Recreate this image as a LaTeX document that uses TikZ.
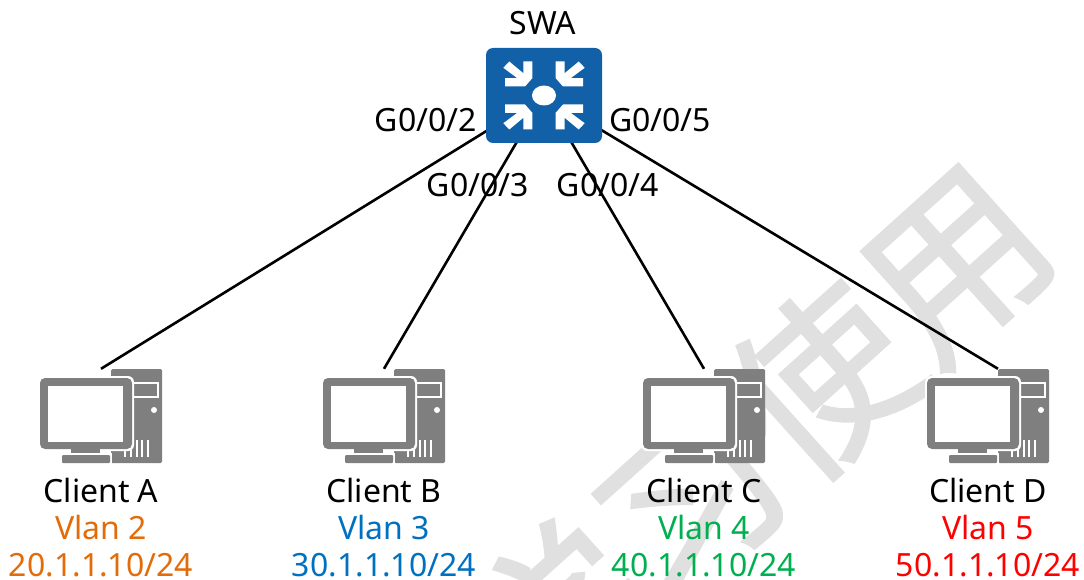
\documentclass[tikz,border=0pt]{standalone}
\usepackage{fontspec}
\setmainfont{Noto Sans}
\newfontfamily\cjk[FakeBold=1.6]{Noto Sans CJK SC}
\usepackage{xcolor}
\usetikzlibrary{positioning}
\definecolor{swblue}{HTML}{1260A8}
\definecolor{pcgray}{HTML}{7F7F7F}
\definecolor{markgray}{HTML}{E0E0E0}
\definecolor{vlanorange}{HTML}{E36C0A}
\definecolor{vlanblue}{HTML}{0070C0}
\definecolor{vlangreen}{HTML}{00B050}
\definecolor{vlanred}{HTML}{FF0000}

\tikzset{
  pics/pcicon/.style={code={
    % tower
    \fill[pcgray, rounded corners=1.5pt] (10,-47) rectangle (61,47);
    \draw[white, line width=1.2pt] (32,-33) rectangle (57,-19);
    \fill[white] (53,-6) circle (3);
    \foreach \vx in {24,30,36,41,47}
      \draw[white, line width=1.2pt] (\vx,24) -- (\vx,41);
    % monitor
    \fill[white, rounded corners=6pt] (-63,-40) rectangle (33,35);
    \fill[pcgray, rounded corners=5pt] (-61,-38) rectangle (31,33);
    \fill[white] (-53,-30) rectangle (22,26);
    \fill[pcgray] (-30,33) rectangle (-1,37);
    \fill[white] (-41,37) rectangle (11,47);
    \fill[pcgray, rounded corners=1pt] (-39,39) rectangle (9,47);
  }},
  pics/swicon/.style={code={
    \fill[swblue, rounded corners=7pt] (-58,-47.5) rectangle (58,47.5);
    \fill[white] (0,0) ellipse (12 and 10);
    \foreach \sx/\sy in {1/1,-1/1,1/-1,-1/-1}
      \fill[white, xscale=\sx, yscale=\sy] (-34.7,-34) -- (-20.7,-22.3) -- (-20.7,-34)
        -- (-11.7,-34) -- (-11.7,-17.3) -- (-19,-9) -- (-39,-9) -- (-39,-17.3)
        -- (-26.7,-17.3) -- (-40.7,-27.7) -- cycle;
  }}
}

\begin{document}
\begin{tikzpicture}[
    x=1pt, y=-1pt,
    node distance=15pt,
    box/.style={inner sep=0pt, minimum width=122pt, minimum height=94pt},
    port/.style={inner sep=0pt, font=\fontsize{32}{36}\selectfont},
    client/.style={inner sep=0pt, align=center, font=\fontsize{32}{37}\selectfont},
    link/.style={line width=2.6pt}
  ]
  \useasboundingbox (0,0) rectangle (1084,580);

  % watermark
  \begin{scope}
    \clip (0,0) rectangle (1084,580);
    \node (mark) at (755,440) [inner sep=0pt, rotate=42, text=markgray, font=\cjk\fontsize{178}{178}\selectfont] {学习使用};
  \end{scope}

  \node (swa) at (544,95.5) [inner sep=0pt, minimum width=116pt, minimum height=95pt] {};
  \node (pca) at (101,416) [box] {};
  \node (pcb) at (384,416) [box] {};
  \node (pcc) at (704,416) [box] {};
  \node (pcd) at (988,416) [box] {};

  \draw[link] (swa.center) -- (pca.north);
  \draw[link] (swa.center) -- (pcb.north);
  \draw[link] (swa.center) -- (pcc.north);
  \draw[link] (swa.center) -- ([xshift=10pt]pcd.north);

  \pic at (swa.center) {swicon};
  \pic at (pca.center) {pcicon};
  \pic at (pcb.center) {pcicon};
  \pic at (pcc.center) {pcicon};
  \pic at (pcd.center) {pcicon};

  \node (swaname) at (543,23) [port] {SWA};
  \node (p2) at (426,120) [port] {G0/0/2};
  \node (p3) at (478,185) [port] {G0/0/3};
  \node (p4) at (608,185) [port] {G0/0/4};
  \node (p5) at (660,120) [port] {G0/0/5};

  \node (infoa) [below=of pca, client] {Client A\\\textcolor{vlanorange}{Vlan 2}\\\textcolor{vlanorange}{20.1.1.10/24}};
  \node (infob) [below=of pcb, client] {Client B\\\textcolor{vlanblue}{Vlan 3}\\\textcolor{vlanblue}{30.1.1.10/24}};
  \node (infoc) [below=of pcc, client] {Client C\\\textcolor{vlangreen}{Vlan 4}\\\textcolor{vlangreen}{40.1.1.10/24}};
  \node (infod) [below=of pcd, client] {Client D\\\textcolor{vlanred}{Vlan 5}\\\textcolor{vlanred}{50.1.1.10/24}};
\end{tikzpicture}
\end{document}
